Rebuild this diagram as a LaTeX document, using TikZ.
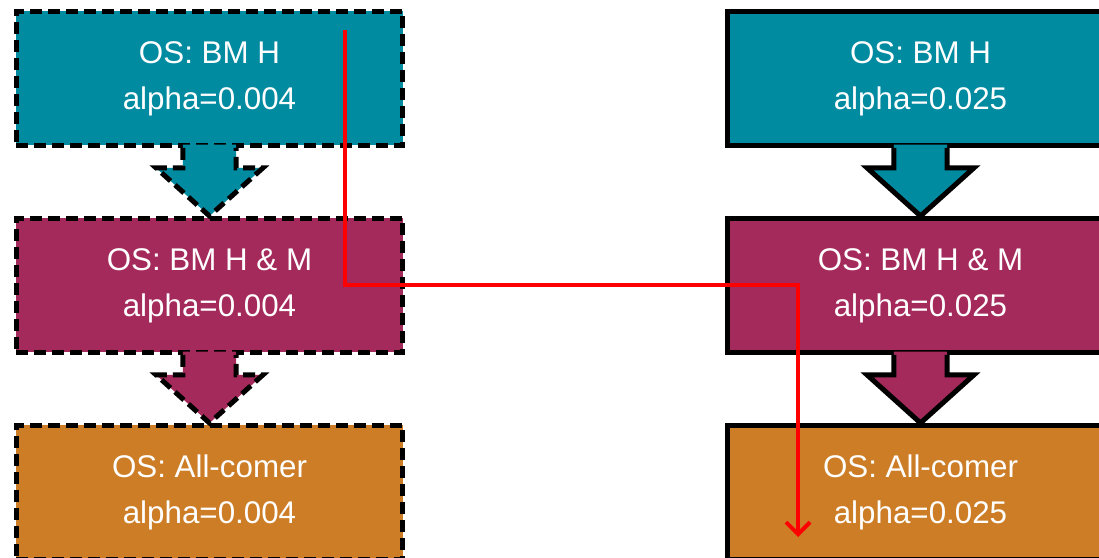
\documentclass[tikz,border=0pt]{standalone}
\usepackage{fontspec}
\setmainfont{Liberation Sans}
\usepackage{tikz}
\usetikzlibrary{arrows.meta}

\definecolor{osteal}{RGB}{0,139,160}
\definecolor{osberry}{RGB}{165,42,92}
\definecolor{osorange}{RGB}{204,125,38}

% block arrow hanging under box #1 and pointing at box #2, fill #3, outline style #4
\newcommand\osarrow[4]{%
  \fill[#3] ([xshift=-20pt,yshift=2.5pt]#1.south) -- ([xshift=-20pt,yshift=-15pt]#1.south)
    -- ([xshift=-40pt,yshift=-15pt]#1.south) -- (#2.north)
    -- ([xshift=40pt,yshift=-15pt]#1.south) -- ([xshift=20pt,yshift=-15pt]#1.south)
    -- ([xshift=20pt,yshift=2.5pt]#1.south) -- cycle;
  \draw[#4] ([xshift=-20pt]#1.south) -- ([xshift=-20pt,yshift=-15pt]#1.south)
    -- ([xshift=-40pt,yshift=-15pt]#1.south) -- (#2.north)
    -- ([xshift=40pt,yshift=-15pt]#1.south) -- ([xshift=20pt,yshift=-15pt]#1.south)
    -- ([xshift=20pt]#1.south);}

\begin{document}
\begin{tikzpicture}[x=0.75pt,y=0.75pt,
  osbox/.style={draw=black, line width=3.75pt, minimum width=290pt, minimum height=100.5pt,
    text=white, align=center, font=\fontsize{23.5}{34.5}\selectfont},
  osline/.style={draw=black, line width=3.75pt},
  osdash/.style={osline, dash pattern=on 9pt off 4.5pt},
  switch/.style={draw=red, line width=3pt, -{Straight Barb[length=9pt,width=18pt]}}
]
\clip (0,0) rectangle (1099,557);

% left column, dashed
\node[osbox, fill=osteal, dash pattern=on 9pt off 4.5pt] (lh) at (209.5,478.5) {OS: BM H\\alpha=0.004};
\node[osbox, fill=osberry, dash pattern=on 9pt off 4.5pt] (lhm) at (209.5,271.5) {OS: BM H \& M\\alpha=0.004};
\node[osbox, fill=osorange, dash pattern=on 9pt off 4.5pt] (lall) at (209.5,64.5) {OS: All-comer\\alpha=0.004};
\osarrow{lh}{lhm}{osteal}{osdash}
\osarrow{lhm}{lall}{osberry}{osdash}

% right column, solid
\node[osbox, fill=osteal] (rh) at (920.5,478.5) {OS: BM H\\alpha=0.025};
\node[osbox, fill=osberry] (rhm) at (920.5,271.5) {OS: BM H \& M\\alpha=0.025};
\node[osbox, fill=osorange] (rall) at (920.5,64.5) {OS: All-comer\\alpha=0.025};
\osarrow{rh}{rhm}{osteal}{osline}
\osarrow{rhm}{rall}{osberry}{osline}

% passing the alpha across
\coordinate (rs) at (345,527);
\coordinate (rk) at (345,272);
\coordinate (re) at (798,20);
\draw[switch] (rs) -- (rk) -| (re);
\end{tikzpicture}
\end{document}
